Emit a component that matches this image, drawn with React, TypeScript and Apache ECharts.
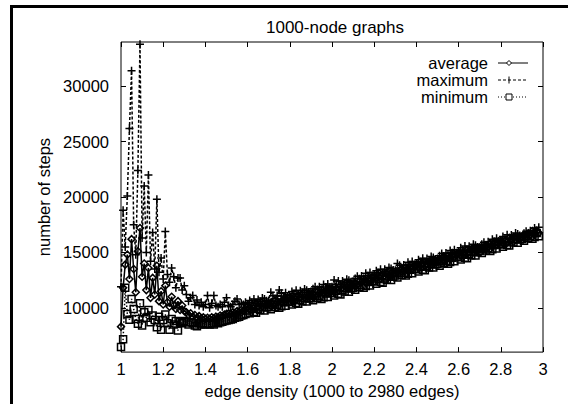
import React, { useEffect, useRef } from "react";
import * as echarts from "echarts";

// Graphs of 1000 nodes, 1000 .. 2980 edges in steps of 10
const NODES = 1000;
const EDGE_START = 1000;
const EDGE_STEP = 10;

const averageSteps = [
  8300, 11800, 13900, 14800, 12600, 16200, 13500, 11400, 15100, 17200,
  12800, 14000, 11600, 13600, 10900, 12700, 11200, 13800, 10600, 11500,
  10300, 12000, 10500, 10100, 11000, 10200, 9900, 10600, 9800, 10200,
  9700, 9600, 9350, 9500, 9200, 9350, 9100, 9250, 9050, 9150,
  9000, 9100, 9000, 9150, 9050, 9200, 9150, 9300, 9250, 9400,
  9450, 9500, 9450, 9600, 9550, 9700, 9650, 9800, 9750, 9900,
  10140, 9920, 10140, 9940, 10360, 10140, 10350, 10130, 10350, 10270,
  10310, 10470, 10330, 10630, 10500, 10800, 10460, 10740, 10600, 10900,
  10940, 10720, 10940, 10740, 11160, 10940, 11150, 10930, 11150, 11070,
  11110, 11270, 11130, 11430, 11300, 11600, 11260, 11540, 11400, 11700,
  11740, 11530, 11770, 11580, 12010, 11810, 12030, 11820, 12050, 11990,
  12040, 12210, 12090, 12400, 12280, 12600, 12270, 12560, 12430, 12750,
  12800, 12590, 12830, 12640, 13070, 12870, 13090, 12880, 13110, 13050,
  13100, 13270, 13150, 13460, 13340, 13660, 13330, 13620, 13490, 13810,
  13860, 13650, 13890, 13700, 14130, 13930, 14150, 13940, 14170, 14110,
  14160, 14340, 14210, 14530, 14410, 14730, 14400, 14700, 14570, 14890,
  14940, 14740, 14970, 14790, 15220, 15020, 15240, 15040, 15270, 15210,
  15260, 15440, 15310, 15630, 15510, 15830, 15500, 15800, 15670, 15990,
  16040, 15840, 16070, 15890, 16320, 16120, 16340, 16140, 16370, 16310,
  16360, 16540, 16410, 16730, 16610, 16930, 16600, 16900, 16770,
];

const maximumSteps = [
  11900, 18800, 15500, 20100, 26200, 31400, 17500, 14800, 22400, 33800,
  16300, 21000, 15000, 22000, 14200, 16800, 13500, 19800, 13200, 14500,
  12600, 16900, 13000, 12300, 13600, 12800, 11800, 12700, 12700, 11600,
  12000, 11200, 10600, 10900, 11100, 10300, 10700, 10200, 10500, 10100,
  10300, 11100, 10000, 10400, 11100, 10200, 10100, 10300, 10100, 10500,
  10900, 10200, 10100, 10300, 10600, 10800, 10300, 10400, 10300, 10500,
  10300, 10670, 10470, 10790, 10410, 10740, 10570, 10890, 10790, 10630,
  10670, 11400, 11090, 10850, 11100, 11600, 11310, 11070, 11350, 11060,
  11100, 11470, 11270, 11590, 11210, 11540, 11370, 11690, 11590, 11430,
  11470, 11710, 11890, 11650, 11900, 11650, 12110, 11870, 12150, 11860,
  11900, 12500, 12100, 12430, 12060, 12410, 12250, 12580, 12490, 12350,
  12400, 12650, 12850, 12620, 12880, 12650, 13120, 12890, 13180, 12910,
  12960, 13340, 13160, 13490, 13120, 13470, 13310, 13640, 13550, 13410,
  13390, 14000, 13840, 13610, 13870, 13640, 14110, 13880, 14170, 13900,
  13950, 14330, 14150, 14480, 14110, 14460, 14300, 14630, 14540, 14400,
  14450, 14710, 14900, 14680, 14940, 14710, 15180, 14960, 15250, 14980,
  15030, 15420, 15230, 15570, 15200, 15550, 15390, 15730, 15640, 15500,
  15470, 15730, 15920, 15700, 15960, 15730, 16200, 15980, 16270, 16000,
  16050, 16440, 16250, 16590, 16220, 16570, 16410, 16750, 16660, 16520,
  16470, 16730, 16920, 16700, 16960, 16730, 17200, 16980, 17270,
];

const minimumSteps = [
  6470, 7150, 11800, 9440, 8930, 10800, 9900, 9000, 8550, 10400,
  8400, 9600, 9100, 9800, 8700, 9300, 8900, 8250, 9200, 8020,
  8900, 9400, 8600, 8020, 9000, 8500, 8800, 7950, 8700, 8600,
  8800, 8700, 8500, 8700, 8600, 8400, 8340, 8600, 8500, 8600,
  8500, 8550, 8500, 8600, 8500, 8660, 8600, 8700, 8750, 8800,
  8850, 8900, 8950, 9000, 9100, 9150, 9200, 9300, 9350, 9450,
  9760, 9500, 9900, 9630, 9560, 9910, 9800, 10070, 9760, 10030,
  10070, 9880, 10270, 10080, 10270, 10000, 10150, 10500, 10180, 10520,
  10560, 10300, 10700, 10430, 10360, 10710, 10600, 10870, 10560, 10830,
  10870, 10680, 11070, 10880, 11070, 10800, 10950, 11300, 10980, 11320,
  11360, 11110, 11530, 11270, 11210, 11580, 11480, 11760, 11460, 11750,
  11800, 11620, 12030, 11850, 12050, 11800, 11960, 12320, 12010, 12370,
  12420, 12170, 12590, 12330, 12270, 12640, 12540, 12820, 12520, 12810,
  12910, 12730, 13140, 12960, 13160, 12910, 13070, 13430, 13120, 13480,
  13530, 13280, 13700, 13440, 13380, 13750, 13650, 13930, 13630, 13920,
  13970, 13800, 14200, 14030, 14230, 13980, 14140, 14510, 14200, 14560,
  14610, 14370, 14780, 14530, 14470, 14840, 14740, 15030, 14730, 15020,
  15120, 14950, 15350, 15180, 15380, 15130, 15290, 15660, 15350, 15710,
  15760, 15520, 15930, 15680, 15620, 15990, 15890, 16180, 15880, 16170,
  16220, 16050, 16450, 16280, 16480, 16230, 16390, 16760, 16450,
];

const yTicks = [10000, 15000, 20000, 25000, 30000];
const seriesNames = ["average", "maximum", "minimum"];

const FONT = '"Liberation Sans", Arial, Helvetica, sans-serif';
const FS = 16.5;
const PLUS = "path://M5,0L5,10M0,5L10,5";

export default function App() {
  const ref = useRef<HTMLDivElement>(null);

  useEffect(() => {
    if (!ref.current) return;
    const chart = echarts.init(ref.current, undefined, { renderer: "svg" });
    const density = averageSteps.map((_, i) => (EDGE_START + i * EDGE_STEP) / NODES);
    const pair = (arr: number[]) => arr.map((v, i) => [density[i], v]);

    const tick = { inside: true, length: 5, lineStyle: { color: "#000", width: 1 } };
    const legendY = [63, 80, 97];
    const lx0 = 498, lx1 = 528, mx = 509;
    const LW = 1.5;

    const option: any = {
      animation: false,
      backgroundColor: "#fff",
      textStyle: { fontFamily: FONT },
      title: {
        text: "1000-node graphs",
        left: 330,
        textAlign: "center",
        top: 14,
        textStyle: { fontSize: 17, fontWeight: "normal", color: "#000", fontFamily: FONT },
      },
      grid: {
        left: 121, right: 25, top: 42, bottom: 47,
        show: true, borderColor: "#000", borderWidth: 1, backgroundColor: "transparent",
      },
      xAxis: [
        {
          type: "value", min: 1, max: 3, interval: 0.2,
          name: "edge density (1000 to 2980 edges)",
          nameLocation: "middle", nameGap: 27,
          nameTextStyle: { fontSize: FS, color: "#000", fontFamily: FONT },
          axisLine: { show: false }, axisTick: tick,
          axisLabel: { fontSize: FS, color: "#000", margin: 8, fontFamily: FONT },
          splitLine: { show: false },
        },
        {
          type: "value", min: 1, max: 3, interval: 0.2, position: "top",
          axisLine: { show: false }, axisTick: tick,
          axisLabel: { show: false }, splitLine: { show: false },
        },
      ],
      yAxis: [
        {
          type: "value", min: 6000, max: 34000,
          name: "number of steps", nameLocation: "middle", nameGap: 50,
          nameTextStyle: { fontSize: FS, color: "#000", fontFamily: FONT },
          axisLine: { show: false },
          axisTick: { ...tick, customValues: yTicks },
          axisLabel: {
            fontSize: FS, color: "#000", margin: 12, customValues: yTicks, fontFamily: FONT,
            formatter: (v: number) => String(v),
          },
          splitLine: { show: false },
        },
        {
          type: "value", min: 6000, max: 34000, position: "right",
          axisLine: { show: false },
          axisTick: { ...tick, customValues: yTicks },
          axisLabel: { show: false, customValues: yTicks },
          splitLine: { show: false },
        },
      ],
      series: [
        {
          name: seriesNames[0], type: "line", data: pair(averageSteps),
          symbol: "diamond", symbolSize: 7,
          itemStyle: { color: "transparent", borderColor: "#000", borderWidth: LW },
          lineStyle: { color: "#000", width: LW, type: "solid" },
        },
        {
          name: seriesNames[1], type: "line", data: pair(maximumSteps),
          symbol: PLUS, symbolSize: 8,
          itemStyle: { color: "transparent", borderColor: "#000", borderWidth: LW },
          lineStyle: { color: "#000", width: LW, type: [3, 2] },
        },
        {
          name: seriesNames[2], type: "line", data: pair(minimumSteps),
          symbol: "rect", symbolSize: 7,
          itemStyle: { color: "transparent", borderColor: "#000", borderWidth: LW },
          lineStyle: { color: "#000", width: LW, type: [1.5, 2] },
        },
      ],
      graphic: [
        // outer frame (top and left edges)
        { type: "rect", silent: true, shape: { x: 10, y: 5, width: 558, height: 3 }, style: { fill: "#000" } },
        { type: "rect", silent: true, shape: { x: 10, y: 5, width: 3, height: 399 }, style: { fill: "#000" } },
        // legend
        ...seriesNames.map((n, i) => ({
          type: "text", x: 488, y: legendY[i],
          style: {
            text: n, fontSize: FS, lineHeight: 16, fontFamily: FONT, fill: "#000",
            align: "right", verticalAlign: "middle",
          },
        })),
        { type: "line", shape: { x1: lx0, y1: legendY[0], x2: lx1, y2: legendY[0] }, style: { stroke: "#000", lineWidth: 1 } },
        { type: "polygon", shape: { points: [[mx, legendY[0] - 2.5], [mx + 2.5, legendY[0]], [mx, legendY[0] + 2.5], [mx - 2.5, legendY[0]]] }, style: { fill: "#fff", stroke: "#000", lineWidth: 1 } },
        { type: "line", shape: { x1: lx0, y1: legendY[1], x2: lx1, y2: legendY[1] }, style: { stroke: "#000", lineWidth: 1, lineDash: [3, 2] } },
        { type: "line", shape: { x1: mx, y1: legendY[1] - 3.5, x2: mx, y2: legendY[1] + 3.5 }, style: { stroke: "#000", lineWidth: 1 } },
        { type: "line", shape: { x1: lx0, y1: legendY[2], x2: lx1, y2: legendY[2] }, style: { stroke: "#000", lineWidth: 1, lineDash: [1, 2] } },
        { type: "rect", shape: { x: mx - 3, y: legendY[2] - 3, width: 6, height: 6 }, style: { fill: "#fff", stroke: "#000", lineWidth: 1 } },
      ],
    };
    chart.setOption(option);
    return () => chart.dispose();
  }, []);

  return (
    <div
      ref={ref}
      style={{ position: "fixed", left: 0, top: 0, width: 568, height: 404, background: "#fff" }}
    />
  );
}
